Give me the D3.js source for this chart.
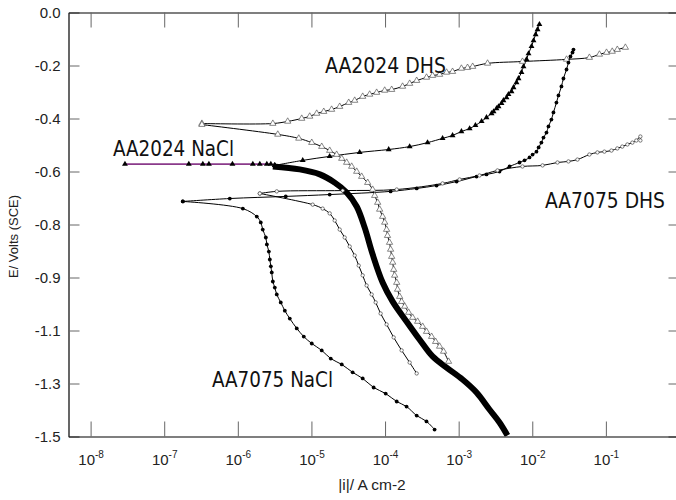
<!DOCTYPE html>
<html>
<head>
<meta charset="utf-8">
<script src="https://cdn.jsdelivr.net/npm/d3@7"></script>
<style>
  html, body { margin: 0; padding: 0; background: #fff; }
  svg { display: block; }
</style>
</head>
<body>
<svg id="chart" width="676" height="500"></svg>
<script>
// ---- axis ticks ----
const xTickExponents = [-8, -7, -6, -5, -4, -3, -2, -1];
const yTickValues = [0, -0.2, -0.4, -0.6, -0.8, -1.0, -1.2, -1.4, -1.6];
const yTickLabels = ["0.0", "-0.2", "-0.4", "-0.6", "-0.8", "-0.9", "-1.1", "-1.3", "-1.5"];

// ---- polarization data: [|i| (A cm-2), E (V vs SCE)] ----
// AA2024 in NaCl: segment held near the corrosion potential
const aa2024NaClRest = [
  [2.93e-8, -0.572], [2.16e-7, -0.572], [3.35e-7, -0.572], [4.05e-7, -0.572],
  [8.45e-7, -0.572], [1.60e-6, -0.572], [1.99e-6, -0.572], [2.48e-6, -0.572],
  [2.81e-6, -0.572], [3.18e-6, -0.577]
];
// AA2024 in NaCl: anodic branch
const aa2024NaClAnodic = [
  [3.18e-6, -0.577], [7.62e-6, -0.558], [1.77e-5, -0.543], [4.52e-5, -0.528],
  [1.12e-4, -0.517], [2.16e-4, -0.506], [3.78e-4, -0.491], [6.05e-4, -0.475],
  [8.26e-4, -0.464], [1.09e-3, -0.449], [1.41e-3, -0.438], [1.69e-3, -0.426],
  [2.05e-3, -0.411], [2.39e-3, -0.396], [2.80e-3, -0.381], [2.98e-3, -0.374],
  [3.27e-3, -0.362], [3.48e-3, -0.355], [3.82e-3, -0.343], [4.06e-3, -0.332],
  [4.47e-3, -0.321], [4.75e-3, -0.309], [5.22e-3, -0.298], [5.56e-3, -0.283],
  [6.11e-3, -0.264], [6.50e-3, -0.249], [7.14e-3, -0.226], [7.60e-3, -0.204],
  [8.36e-3, -0.177], [8.89e-3, -0.155], [9.77e-3, -0.128], [1.04e-2, -0.106],
  [1.11e-2, -0.083], [1.18e-2, -0.064], [1.25e-2, -0.045]
];
// AA2024 in NaCl: cathodic branch
const aa2024NaClCathodic = [
  [2.99e-6, -0.581], [6.93e-6, -0.592], [1.30e-5, -0.611], [2.07e-5, -0.642],
  [3.01e-5, -0.679], [4.12e-5, -0.732], [5.28e-5, -0.811], [6.79e-5, -0.913],
  [9.27e-5, -1.019], [1.27e-4, -1.091], [1.96e-4, -1.166], [2.94e-4, -1.234],
  [4.43e-4, -1.298], [6.85e-4, -1.340], [1.13e-3, -1.385], [1.75e-3, -1.434],
  [2.62e-3, -1.498], [3.59e-3, -1.547], [4.60e-3, -1.596]
];
// AA2024 in DHS: anodic branch
const aa2024DhsAnodic = [
  [3.25e-7, -0.419], [2.99e-6, -0.419], [4.76e-6, -0.411], [7.38e-6, -0.400],
  [9.48e-6, -0.392], [1.18e-5, -0.381], [1.47e-5, -0.374], [1.88e-5, -0.366],
  [2.42e-5, -0.355], [3.21e-5, -0.340], [3.87e-5, -0.332], [4.97e-5, -0.317],
  [6.18e-5, -0.309], [7.69e-5, -0.302], [9.89e-5, -0.294], [1.23e-4, -0.291],
  [1.73e-4, -0.279], [2.16e-4, -0.268], [2.69e-4, -0.257], [3.66e-4, -0.245],
  [4.43e-4, -0.238], [5.51e-4, -0.234], [6.85e-4, -0.226], [8.26e-4, -0.223],
  [1.09e-3, -0.211], [1.32e-3, -0.208], [1.55e-3, -0.204], [2.47e-3, -0.192],
  [7.36e-3, -0.185], [2.92e-2, -0.177], [5.97e-2, -0.170], [8.17e-2, -0.158],
  [1.02e-1, -0.151], [1.22e-1, -0.147], [1.43e-1, -0.140], [1.84e-1, -0.132]
];
// AA2024 in DHS: cathodic branch
const aa2024DhsCathodic = [
  [3.25e-7, -0.423], [3.49e-6, -0.460], [6.73e-6, -0.475], [1.01e-5, -0.491],
  [1.38e-5, -0.506], [1.77e-5, -0.521], [2.20e-5, -0.536], [2.58e-5, -0.551],
  [3.01e-5, -0.566], [3.52e-5, -0.581], [4.12e-5, -0.600], [4.81e-5, -0.619],
  [5.81e-5, -0.642], [6.79e-5, -0.668], [7.23e-5, -0.691], [7.94e-5, -0.717],
  [8.45e-5, -0.743], [9.27e-5, -0.770], [9.89e-5, -0.792], [1.05e-4, -0.819],
  [1.08e-4, -0.842], [1.15e-4, -0.868], [1.19e-4, -0.894], [1.23e-4, -0.921],
  [1.27e-4, -0.943], [1.31e-4, -0.970], [1.35e-4, -0.992], [1.44e-4, -1.019],
  [1.48e-4, -1.045], [1.58e-4, -1.072], [1.68e-4, -1.091], [1.85e-4, -1.109],
  [2.09e-4, -1.132], [2.37e-4, -1.151], [2.77e-4, -1.166], [3.24e-4, -1.185],
  [3.66e-4, -1.204], [4.29e-4, -1.223], [4.86e-4, -1.242], [5.51e-4, -1.260],
  [6.24e-4, -1.279], [7.29e-4, -1.317]
];
// AA7075 in NaCl: anodic branch
const aa7075NaClAnodic = [
  [1.79e-7, -0.713], [7.78e-7, -0.702], [4.48e-6, -0.694], [1.77e-5, -0.687],
  [1.19e-4, -0.675], [2.69e-4, -0.664], [5.01e-4, -0.653], [9.38e-4, -0.638],
  [1.75e-3, -0.619], [2.39e-3, -0.611], [3.59e-3, -0.600], [4.91e-3, -0.581],
  [6.71e-3, -0.566], [7.85e-3, -0.558], [9.18e-3, -0.547], [1.01e-2, -0.536],
  [1.14e-2, -0.525], [1.22e-2, -0.509], [1.33e-2, -0.491], [1.42e-2, -0.472],
  [1.56e-2, -0.453], [1.66e-2, -0.430], [1.82e-2, -0.404], [1.94e-2, -0.377],
  [2.13e-2, -0.340], [2.27e-2, -0.313], [2.49e-2, -0.279], [2.65e-2, -0.249],
  [2.92e-2, -0.215], [3.10e-2, -0.189], [3.30e-2, -0.166], [3.52e-2, -0.151],
  [3.63e-2, -0.140]
];
// AA7075 in NaCl: cathodic branch
const aa7075NaClCathodic = [
  [1.79e-7, -0.713], [1.17e-6, -0.740], [1.81e-6, -0.770], [2.05e-6, -0.792],
  [2.18e-6, -0.819], [2.40e-6, -0.849], [2.48e-6, -0.875], [2.64e-6, -0.902],
  [2.72e-6, -0.932], [2.81e-6, -0.958], [2.89e-6, -0.981], [2.99e-6, -1.015],
  [3.18e-6, -1.038], [3.38e-6, -1.064], [3.83e-6, -1.094], [4.35e-6, -1.125],
  [5.08e-6, -1.155], [6.32e-6, -1.192], [7.87e-6, -1.223], [1.01e-5, -1.249],
  [1.38e-5, -1.275], [1.83e-5, -1.306], [2.58e-5, -1.328], [3.63e-5, -1.358],
  [4.97e-5, -1.381], [7.00e-5, -1.415], [1.02e-4, -1.438], [1.44e-4, -1.468],
  [1.96e-4, -1.487], [2.69e-4, -1.521], [3.66e-4, -1.543], [4.71e-4, -1.574]
];
// AA7075 in DHS: anodic branch
const aa7075DhsAnodic = [
  [1.99e-6, -0.683], [3.38e-6, -0.675], [2.66e-5, -0.672], [1.44e-4, -0.668],
  [6.05e-4, -0.645], [1.03e-3, -0.630], [1.92e-3, -0.615], [3.37e-3, -0.596],
  [7.36e-3, -0.581], [1.38e-2, -0.577], [2.20e-2, -0.566], [3.10e-2, -0.562],
  [4.11e-2, -0.555], [5.97e-2, -0.536], [7.67e-2, -0.528], [9.55e-2, -0.525],
  [1.19e-1, -0.521], [1.43e-1, -0.513], [1.67e-1, -0.506], [1.96e-1, -0.498],
  [2.29e-1, -0.491], [2.59e-1, -0.483], [2.94e-1, -0.468], [2.94e-1, -0.483]
];
// AA7075 in DHS: cathodic branch
const aa7075DhsCathodic = [
  [1.99e-6, -0.683], [1.04e-5, -0.725], [1.42e-5, -0.740], [1.77e-5, -0.758],
  [2.07e-5, -0.785], [2.42e-5, -0.819], [2.83e-5, -0.849], [3.31e-5, -0.883],
  [3.87e-5, -0.917], [4.39e-5, -0.955], [4.97e-5, -0.992], [5.62e-5, -1.030],
  [6.58e-5, -1.064], [7.46e-5, -1.094], [8.71e-5, -1.136], [1.05e-4, -1.177],
  [1.31e-4, -1.226], [1.68e-4, -1.275], [2.16e-4, -1.321], [2.69e-4, -1.362]
];

// curve labels
const curveLabels = ["AA2024 DHS", "AA2024 NaCl", "AA7075 DHS", "AA7075 NaCl"];

// ---- layout ----
const svg = d3.select("#chart");
const plot = { left: 68.5, right: 679.5, top: 12.5, bottom: 436.5 };

const x = d3.scaleLog().domain([5.01e-9, 1]).range([plot.left, plot.right]);
const y = d3.scaleLinear().domain([-1.6, 0]).range([plot.bottom, plot.top]);

svg.append("rect").attr("width", 676).attr("height", 500).attr("fill", "#fff");

svg.append("defs").append("clipPath").attr("id", "plotClip")
  .append("rect")
  .attr("x", plot.left).attr("y", plot.top)
  .attr("width", plot.right - plot.left).attr("height", plot.bottom - plot.top);

const axisFont = "'Liberation Sans', Arial, sans-serif";
const xTicks = xTickExponents.map(e => Math.pow(10, e));

function styleAxis(g) {
  g.select(".domain").attr("stroke", "#000").attr("stroke-width", 1.2);
  g.selectAll(".tick line").attr("stroke", "#666").attr("stroke-width", 1);
}

// left axis with labels
const gLeft = svg.append("g").attr("transform", `translate(${plot.left},0)`)
  .call(d3.axisLeft(y).tickValues(yTickValues).tickSize(-11).tickSizeOuter(0)
    .tickPadding(8).tickFormat((d, i) => yTickLabels[i]));
styleAxis(gLeft);
gLeft.selectAll(".tick text")
  .attr("font-family", axisFont).attr("font-size", 15).attr("fill", "#222");

// right axis, ticks only
const gRight = svg.append("g").attr("transform", `translate(${plot.right},0)`)
  .call(d3.axisRight(y).tickValues(yTickValues).tickSize(-11).tickSizeOuter(0).tickFormat(""));
styleAxis(gRight);

// top axis, ticks only
const gTop = svg.append("g").attr("transform", `translate(0,${plot.top})`)
  .call(d3.axisTop(x).tickValues(xTicks).tickSize(-15).tickSizeOuter(0).tickFormat(""));
styleAxis(gTop);

// bottom axis with power-of-ten labels
const gBottom = svg.append("g").attr("transform", `translate(0,${plot.bottom})`)
  .call(d3.axisBottom(x).tickValues(xTicks).tickSize(-15).tickSizeOuter(0).tickFormat(""));
styleAxis(gBottom);
gBottom.selectAll(".tick").each(function (d, i) {
  const t = d3.select(this).select("text")
    .attr("y", 28.5).attr("dy", null)
    .attr("text-anchor", "middle")
    .attr("font-family", axisFont).attr("font-size", 15).attr("fill", "#222");
  t.text(null);
  t.append("tspan").text("10");
  t.append("tspan").attr("font-size", 10).attr("dy", -7).text(String(xTickExponents[i]));
});

// axis titles
svg.append("text")
  .attr("x", 372).attr("y", 490).attr("text-anchor", "middle")
  .attr("font-family", axisFont).attr("font-size", 15.5).attr("fill", "#222")
  .text("|i|/ A cm-2");
svg.append("text")
  .attr("transform", "translate(18,236.5) rotate(-90)").attr("text-anchor", "middle")
  .attr("font-family", axisFont).attr("font-size", 13).attr("fill", "#222")
  .text("E/ Volts (SCE)");

// ---- curves ----
const layer = svg.append("g").attr("clip-path", "url(#plotClip)");
const line = d3.line()
  .x(d => x(d[0])).y(d => y(d[1]))
  .curve(d3.curveCatmullRom.alpha(0.5));

function drawLine(data, color, width) {
  layer.append("path").datum(data)
    .attr("d", line).attr("fill", "none")
    .attr("stroke", color).attr("stroke-width", width)
    .attr("stroke-linejoin", "round");
}
function drawTriangles(data, filled) {
  const sym = d3.symbol().type(d3.symbolTriangle).size(filled ? 15 : 17);
  layer.append("g").selectAll("path").data(data).join("path")
    .attr("transform", d => `translate(${x(d[0])},${y(d[1])})`)
    .attr("d", sym)
    .attr("fill", filled ? "#000" : "#fff")
    .attr("stroke", filled ? "none" : "#555")
    .attr("stroke-width", 0.7);
}
function drawCircles(data, filled) {
  layer.append("g").selectAll("circle").data(data).join("circle")
    .attr("cx", d => x(d[0])).attr("cy", d => y(d[1]))
    .attr("r", filled ? 1.9 : 1.7)
    .attr("fill", filled ? "#000" : "#fff")
    .attr("stroke", filled ? "none" : "#444")
    .attr("stroke-width", 0.7);
}

// AA2024 NaCl cathodic branch drawn heavy underneath
drawLine(aa2024NaClCathodic, "#000", 6);

// thin branches
drawLine(aa2024NaClRest, "#8a3a8a", 1.6);
drawLine(aa2024NaClAnodic, "#000", 1);
drawLine(aa2024DhsAnodic, "#000", 1);
drawLine(aa2024DhsCathodic, "#000", 1);
drawLine(aa7075NaClAnodic, "#000", 1);
drawLine(aa7075NaClCathodic, "#000", 1);
drawLine(aa7075DhsAnodic, "#000", 1);
drawLine(aa7075DhsCathodic, "#000", 1);

// markers
drawTriangles(aa2024NaClRest, true);
drawTriangles(aa2024NaClAnodic, true);
drawTriangles(aa2024DhsAnodic, false);
drawTriangles(aa2024DhsCathodic, false);
drawCircles(aa7075NaClAnodic, true);
drawCircles(aa7075NaClCathodic, true);
drawCircles(aa7075DhsAnodic, false);
drawCircles(aa7075DhsCathodic, false);

// ---- curve labels ----
const labelPlacement = [
  { x: 325, y: 73, w: 121 },
  { x: 113, y: 156, w: 121 },
  { x: 545, y: 207.5, w: 120 },
  { x: 212, y: 387, w: 121 }
];
svg.append("g").selectAll("text").data(curveLabels).join("text")
  .attr("x", (d, i) => labelPlacement[i].x)
  .attr("y", (d, i) => labelPlacement[i].y)
  .attr("textLength", (d, i) => labelPlacement[i].w)
  .attr("lengthAdjust", "spacingAndGlyphs")
  .attr("font-family", "'DejaVu Sans', Verdana, sans-serif")
  .attr("font-size", 21).attr("fill", "#111")
  .text(d => d);
</script>
</body>
</html>
